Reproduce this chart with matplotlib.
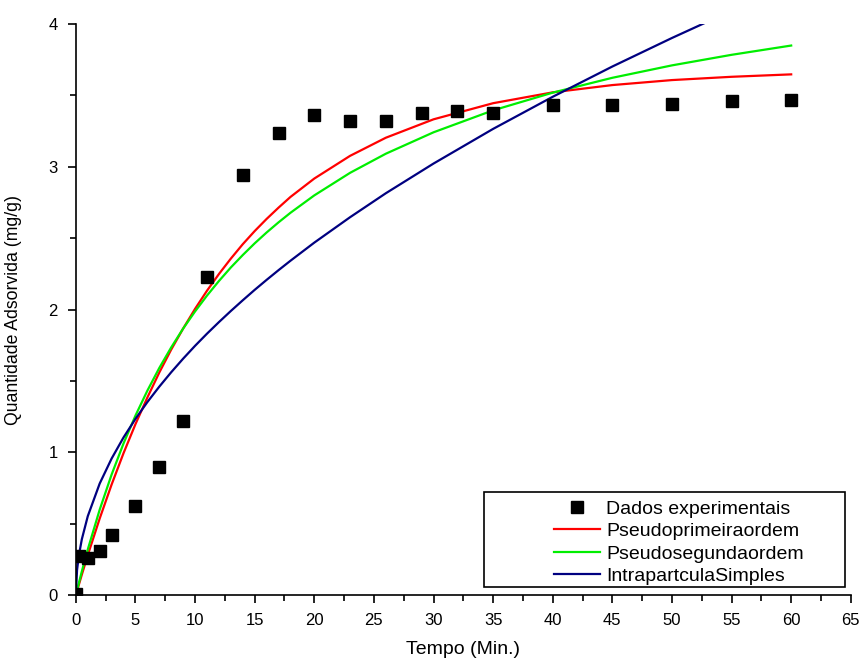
import matplotlib
matplotlib.use("Agg")
import matplotlib.pyplot as plt
from matplotlib.ticker import MultipleLocator
from matplotlib.patches import Rectangle

plt.rcParams['font.family'] = ['Liberation Sans', 'DejaVu Sans']

# dados experimentais
t_exp = [0, 0.3, 1, 2, 3, 5, 7, 9, 11, 14, 17, 20, 23, 26, 29, 32, 35, 40, 45, 50, 55, 60]
q_exp = [0.01, 0.27, 0.26, 0.31, 0.42, 0.62, 0.90, 1.22, 2.23, 2.94, 3.24, 3.36, 3.32, 3.32,
         3.38, 3.39, 3.38, 3.43, 3.43, 3.44, 3.46, 3.47]

# curvas ajustadas
t_fit = [0, 0.5, 1, 2, 3, 4, 5, 6, 7, 8, 9, 10, 11, 12, 13, 14, 15, 16, 17, 18, 20, 23, 26,
         30, 35, 40, 45, 50, 55, 60]
q_pfo = [0, 0.142, 0.279, 0.536, 0.774, 0.994, 1.197, 1.384, 1.559, 1.720, 1.867, 2.005,
         2.132, 2.249, 2.357, 2.458, 2.550, 2.635, 2.714, 2.789, 2.918, 3.077, 3.204,
         3.333, 3.446, 3.522, 3.573, 3.608, 3.631, 3.648]
q_pso = [0, 0.165, 0.319, 0.598, 0.844, 1.062, 1.257, 1.432, 1.591, 1.735, 1.867, 1.987,
         2.098, 2.200, 2.295, 2.382, 2.464, 2.540, 2.611, 2.678, 2.800, 2.958, 3.092,
         3.242, 3.396, 3.520, 3.624, 3.711, 3.785, 3.850]
t_ip = [0, 0.1, 0.25, 0.5, 1, 2, 3, 4, 5, 6, 7, 8, 9, 10, 11, 12, 13, 14, 15, 16, 17, 18, 20,
        23, 26, 30, 35, 40, 45, 50, 55]
q_ip = [0, 0.175, 0.276, 0.390, 0.552, 0.781, 0.956, 1.104, 1.234, 1.352, 1.460, 1.561, 1.656,
        1.746, 1.831, 1.912, 1.990, 2.065, 2.138, 2.208, 2.276, 2.342, 2.469, 2.647, 2.815,
        3.023, 3.266, 3.491, 3.703, 3.903, 4.094]

fig = plt.figure(figsize=(8.62, 6.63), dpi=100)
ax = fig.add_axes([0.088, 0.1026, 0.899, 0.861])

ax.plot(t_exp, q_exp, 's', color='black', markersize=8.5, label='Dados experimentais', zorder=3)
ax.plot(t_fit, q_pfo, color='#ff0000', lw=1.6, label='Pseudoprimeiraordem')
ax.plot(t_fit, q_pso, color='#00ee00', lw=1.6, label='Pseudosegundaordem')
ax.plot(t_ip, q_ip, color='#000080', lw=1.6, label='IntrapartculaSimples')

ax.set_xlim(0, 65)
ax.set_ylim(0, 4)
ax.xaxis.set_major_locator(MultipleLocator(5))
ax.xaxis.set_minor_locator(MultipleLocator(2.5))
ax.yaxis.set_major_locator(MultipleLocator(1))
ax.yaxis.set_minor_locator(MultipleLocator(0.5))
ax.tick_params(which='major', direction='out', length=6, width=1.2, labelsize=12)
ax.tick_params(which='minor', direction='out', length=4, width=1.2)
ax.tick_params(axis='x', pad=7)
ax.tick_params(axis='y', pad=7)
ax.spines['top'].set_visible(False)
ax.spines['right'].set_visible(False)
ax.spines['left'].set_linewidth(1.2)
ax.spines['bottom'].set_linewidth(1.2)

ax.set_xlabel('Tempo (Min.)', fontsize=14, labelpad=9)
ax.set_ylabel('Quantidade Adsorvida (mg/g)', fontsize=12.7, labelpad=19)

# moldura da legenda
ax.add_patch(Rectangle((0.5265, 0.014), 0.4655, 0.166, transform=ax.transAxes,
                       fill=True, facecolor='white', edgecolor='black', lw=1.2, zorder=4))
leg = ax.legend(loc='upper left', bbox_to_anchor=(0.617, 0.166), fontsize=14,
                frameon=False, handlelength=2.37, borderpad=0, borderaxespad=0,
                labelspacing=0.25, handletextpad=0.3)
leg.set_zorder(5)

fig.savefig('out.png', dpi=100)
